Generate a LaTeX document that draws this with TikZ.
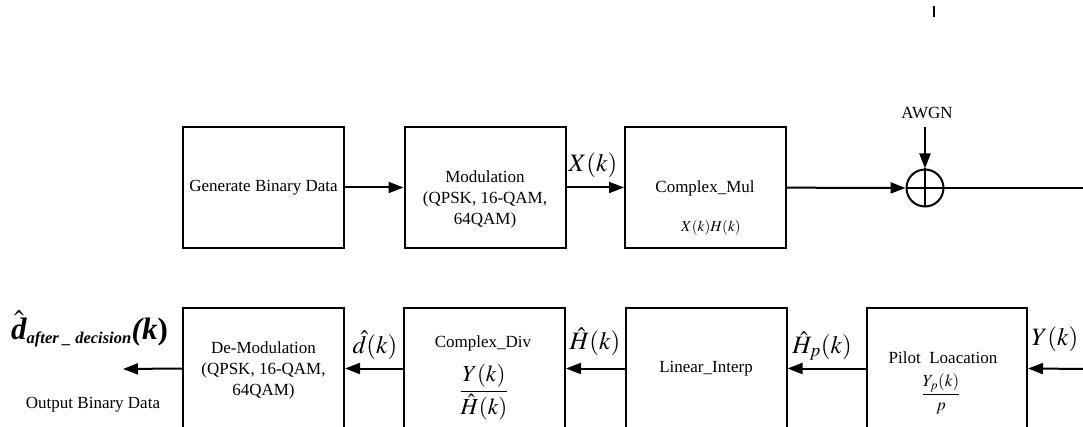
\documentclass[tikz,border=0pt]{standalone}
\usepackage{amsmath}
\usepackage{mathptmx}
\usepackage{fontspec}
\setmainfont{Liberation Serif}
\usetikzlibrary{arrows.meta}

\begin{document}
\begin{tikzpicture}[x=1pt,y=-1pt,
  blk/.style={draw,line width=2pt,minimum width=161pt,minimum height=121pt,inner sep=0pt},
  flow/.style={line width=2pt,-{Triangle[length=15pt,width=11pt]}},
  wire/.style={line width=2pt},
  txt/.style={font=\fontsize{17}{21}\selectfont,align=center,inner sep=0pt},
  small/.style={font=\fontsize{15}{17}\selectfont,inner sep=0pt},
  sig/.style={font=\fontsize{25}{27}\selectfont,inner sep=0pt}]
\clip (0,0) rectangle (1083,427);

% ---- transmitter chain ----
\node[blk] (gen) at (263.5,187.5) {};
\node[txt] (gent) at (263.5,188) {Generate Binary Data};
\node[blk] (mod) at (485,187.5) {};
\node[txt] (modt) at (485,199) {Modulation\\(QPSK, 16-QAM,\\64QAM)};
\node[blk] (mul) at (705.5,187.5) {};
\node[txt] (mult) at (705,188) {Complex\_Mul};
\node[small] (mulm) at (711,228) {$X(k)H(k)$};

\node[draw,circle,line width=2pt,minimum size=37pt,inner sep=0pt] (add) at (925,188) {};
\draw[wire] (add.north) -- (add.south) (add.west) -- (add.east);
\node[txt] (awgn) at (927,113) {AWGN};
\coordinate (awgnin) at (925,127);
\coordinate (txout) at (1090,188);
\coordinate (tka) at (934,6);
\coordinate (tkb) at (934,17);
\draw[line width=2.4pt] (tka) -- (tkb);

\draw[flow] (gen) -- (mod);
\draw[flow] (mod) -- (mul);
\draw[flow] (mul) -- (add);
\draw[flow] (awgnin) -- (add.north);
\draw[wire] (add.east) -- (txout);

\node[sig] (xk) at (593,165) {$X(k)$};

% ---- receiver chain ----
\node[blk] (dem) at (263.5,368.5) {};
\node[txt] (demt) at (263.5,370) {De-Modulation\\(QPSK, 16-QAM,\\64QAM)};
\node[blk] (div) at (484.5,368.5) {};
\node[txt] (divt) at (483,343) {Complex\_Div};
\node[font=\fontsize{23}{25}\selectfont,inner sep=0pt] (divm) at (484,392) {$\dfrac{Y(k)}{\hat{H}(k)}$};
\node[blk] (lin) at (706,368.5) {};
\node[txt] (lint) at (706,369) {Linear\_Interp};
\node[blk,minimum width=160pt] (pil) at (947,368.5) {};
\node[txt] (pilt) at (943,358) {Pilot\ \ Loacation};
\node[font=\fontsize{17}{19}\selectfont,inner sep=0pt] (pilm) at (941,394) {$\dfrac{Y_p(k)}{p}$};

\coordinate (rxin) at (1090,369);
\coordinate (rxout) at (123,369);
\draw[flow] (rxin) -- (pil.east);
\draw[flow] (pil) -- (lin);
\draw[flow] (lin) -- (div);
\draw[flow] (div) -- (dem);
\draw[flow] (dem.west) -- (rxout);

\node[sig] (yk) at (1055,339) {$Y(k)$};
\node[sig] (hpk) at (822,346) {$\hat{H}_p(k)$};
\node[sig] (hk) at (595,342) {$\hat{H}(k)$};
\node[sig] (dk) at (375,345) {$\hat{d}(k)$};
\node[inner sep=0pt,anchor=base west,font=\fontsize{31}{33}\selectfont\bfseries\itshape] (dout) at (11,339)
  {$\hat{\mbox{\bfseries\itshape d}}_{\mbox{\fontsize{16.5}{17}\selectfont\bfseries\itshape after\ \_\ decision}}\mbox{\bfseries(\itshape k\/\upshape)}$};
\node[txt] (obd) at (93,405) {Output Binary Data};
\end{tikzpicture}
\end{document}
